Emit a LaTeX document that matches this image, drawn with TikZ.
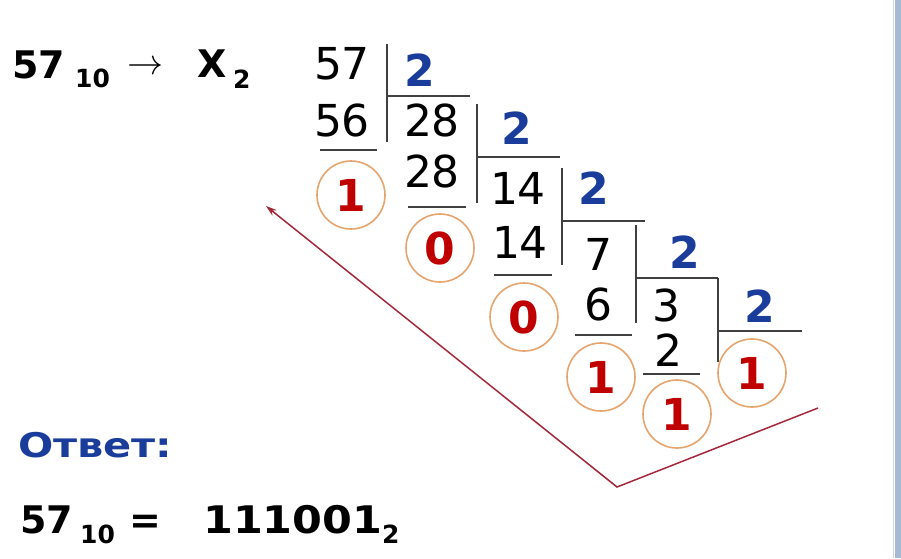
\RequirePackage{fix-cm}
\documentclass[tikz,border=0pt]{standalone}
\usepackage{fontspec}
\usepackage{graphicx}
\setmainfont{DejaVu Sans}
\usetikzlibrary{arrows.meta}
\definecolor{qblue}{RGB}{26,61,156}
\definecolor{rdig}{RGB}{192,0,0}
\definecolor{ring}{RGB}{230,165,110}
\definecolor{arr}{RGB}{165,40,58}
\definecolor{bar}{RGB}{165,187,211}
\definecolor{barline}{RGB}{215,210,225}
\begin{document}
\begin{tikzpicture}[x=1pt,y=-1pt,
  num/.style={inner sep=0pt,font=\fontsize{44}{44}\selectfont,text=black},
  divisor/.style={inner sep=0pt,font=\fontsize{44}{44}\selectfont\bfseries,text=qblue},
  rem/.style={circle,draw=ring,line width=1.6pt,minimum size=68pt,inner sep=0pt,
    font=\fontsize{44}{44}\selectfont\bfseries,text=rdig},
  divline/.style={line width=1.3pt,draw=black!75},
  big/.style={inner sep=0pt,font=\fontsize{38}{38}\selectfont\bfseries},
  sub/.style={inner sep=0pt,font=\fontsize{25}{25}\selectfont\bfseries},
  redarrow/.style={draw=arr,line width=1.5pt}]
\useasboundingbox (0,0) rectangle (901,558);
\fill[white] (0,0) rectangle (901,558);
\fill[bar] (895,0) rectangle (901,558);
\draw[barline,line width=1pt] (893,0) -- (893,558);

% header
\node[big,anchor=base west] (h57) at (12,78) {57};
\node[sub,anchor=base west] (h10) at (75,87) {10};
\node[inner sep=0pt,font=\fontsize{36}{36}\selectfont] (harr) at (145,68) {$\rightarrow$};
\node[big,anchor=base west] (hX) at (197,77) {X};
\node[sub,anchor=base west] (h2) at (233,88) {2};

% dividends / quotients
\node[num] (n57) at (342,64) {57};
\node[num] (n56) at (342,120) {56};
\node[num] (n28a) at (432,120) {28};
\node[num] (n28b) at (432,171) {28};
\node[num] (n14a) at (518,188) {14};
\node[num] (n14b) at (520,242) {14};
\node[num] (n7) at (598,254) {7};
\node[num] (n6) at (598,304) {6};
\node[num] (n3) at (666,305) {3};
\node[num] (n2) at (668,350) {2};

% divisors
\node[divisor] (d1) at (420,70) {2};
\node[divisor] (d2) at (517,128) {2};
\node[divisor] (d3) at (594,188) {2};
\node[divisor] (d4) at (685,252) {2};
\node[divisor] (d5) at (760,306) {2};

% division brackets
\draw[divline] (387,44) -- (387,142);
\draw[divline] (387,96) -- (470,96);
\draw[divline] (477,104) -- (477,203);
\draw[divline] (477,157) -- (560,157);
\draw[divline] (562,168) -- (562,265);
\draw[divline] (562,221) -- (645,221);
\draw[divline] (636,225) -- (636,323);
\draw[divline] (636,278) -- (718,278);
\draw[divline] (718,278) -- (718,362);
\draw[divline] (718,331) -- (802,331);

% subtraction lines
\draw[divline] (320,150) -- (377,150);
\draw[divline] (408,207) -- (466,207);
\draw[divline] (494,275) -- (552,275);
\draw[divline] (575,335) -- (632,335);
\draw[divline] (643,374) -- (700,374);

% remainders
\node[rem] (r1) at (351,195) {1};
\node[rem] (r2) at (440,248) {0};
\node[rem] (r3) at (524,317) {0};
\node[rem] (r4) at (601,377) {1};
\node[rem] (r5) at (677,414) {1};
\node[rem] (r6) at (752,373) {1};

% reading arrow
\coordinate (aEnd) at (818,408);
\coordinate (aVert) at (617,487);
\coordinate (aTip) at (266,206);
\draw[redarrow,-{Stealth[length=11pt,width=7pt]}] (aEnd) -- (aVert) -- (aTip);

% answer
\node[inner sep=0pt,anchor=base west,font=\fontsize{34}{34}\selectfont\bfseries,text=qblue] (ans) at (18,457) {\scalebox{1.22}[1]{Ответ:}};
\node[big,anchor=base west] (b57) at (20,533) {57};
\node[sub,anchor=base west] (b10) at (80,543) {10};
\node[big] (beq) at (145,524) {=};
\node[big,anchor=base west] (bres) at (203,533) {\scalebox{1.13}[1]{111001}};
\node[sub,anchor=base west] (b2) at (382,543) {2};
\end{tikzpicture}
\end{document}
